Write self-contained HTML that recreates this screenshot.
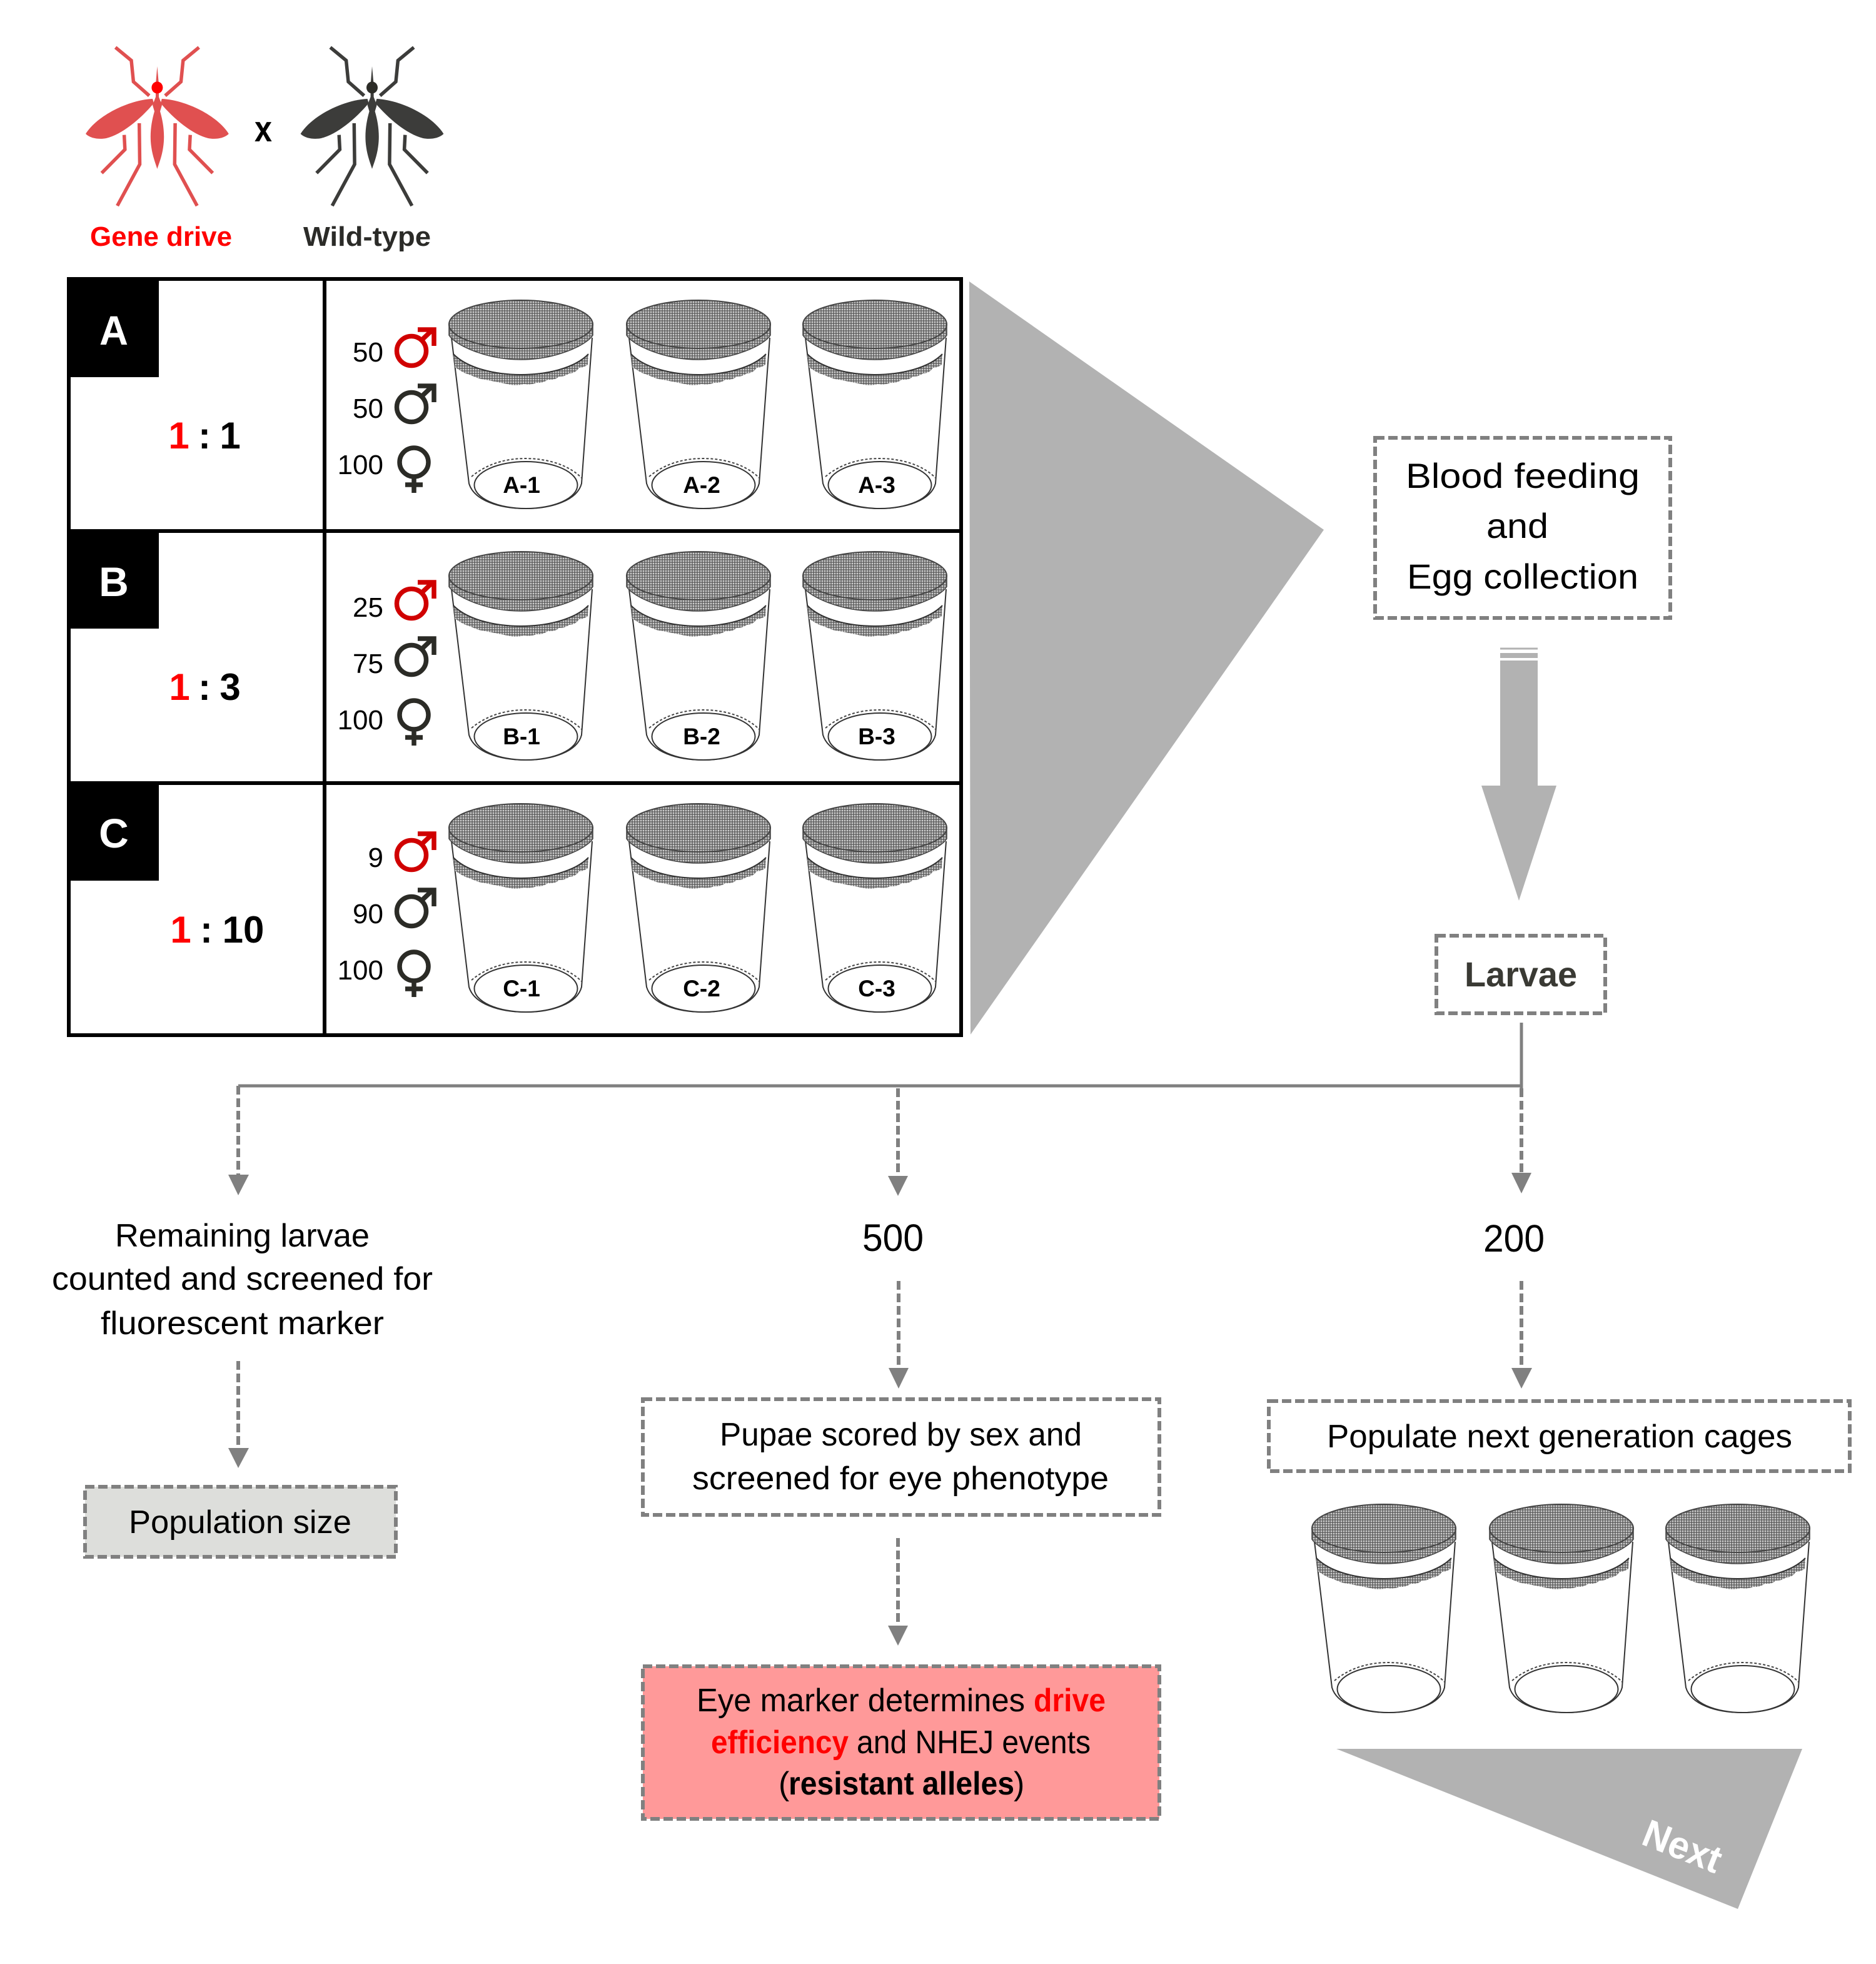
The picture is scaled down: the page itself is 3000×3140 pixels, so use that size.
<!DOCTYPE html>
<html><head><meta charset="utf-8"><style>
html,body{margin:0;padding:0;background:#fff}
svg{display:block}
text{font-family:"Liberation Sans",sans-serif}
.b{font-weight:bold}
.c{font-size:44px;text-anchor:end}
.t{font-size:52px}
.d{stroke:#808080;stroke-width:6;stroke-dasharray:15 6}
.l{fill:none;stroke:#808080;stroke-width:6;stroke-dasharray:14 6}
.h{fill:#808080}
.jl{font-size:37px;font-weight:bold;text-anchor:middle}
.m{fill:none;stroke-width:7.5}
</style></head><body>
<svg xmlns="http://www.w3.org/2000/svg" width="3000" height="3140" viewBox="0 0 3000 3140">
<defs>
<pattern id="mesh" width="4" height="4" patternUnits="userSpaceOnUse">
<rect width="4" height="4" fill="#d0d0d0"/>
<path d="M0 1H4M1 0V4" stroke="#555" stroke-width="1.300"/>
</pattern>
<g id="jar">
<path d="M4,60 L32,293 C40,320 80,333 122,333 C165,333 205,320 212,293 L229,60" fill="#fff" stroke="#333" stroke-width="2"/>
<path d="M7,86 C50,130 180,130 223,86 L222,103 Q215,108 208,108 Q202,117 192,117 Q186,122 176,122 Q170,128 158,127 Q150,133 140,132 Q130,136 120,134 Q108,137 98,135 Q88,133 78,131 Q68,129 58,127 Q48,126 40,122 Q30,118 24,116 Q14,110 9,107 Z" fill="url(#mesh)"/>
<path d="M7,86 C50,130 180,130 223,86" fill="none" stroke="#333" stroke-width="2"/>
<path d="M0,38 L0,56 C10,72 60,95 115,95 C170,95 220,72 230,56 L230,38 Z" fill="url(#mesh)" stroke="#444" stroke-width="1.500"/>
<ellipse cx="115" cy="38.500" rx="115" ry="38.500" fill="url(#mesh)" stroke="#444" stroke-width="2"/>
<ellipse cx="123" cy="295.500" rx="82.500" ry="37.500" fill="#fff" stroke="#333" stroke-width="2"/>
<path d="M36,282 C60,262 90,253 122,253 C155,253 190,262 212,284" fill="none" stroke="#444" stroke-width="2" stroke-dasharray="4 3"/>
</g>
<g id="mh">
<path d="M244,158 C205,160 155,185 137,214 C145,222 160,223 170,221 C195,215 225,190 246,165 Z" stroke="none"/>
<g fill="none" stroke="currentColor" stroke-width="5.500">
<path d="M184.600,75.700 L210,96.700 L213.400,130.700 L238.700,153"/>
<path d="M222.700,197 L223.500,262.700 L187.600,329"/>
<path d="M198.600,215.700 L199.800,239 L162.600,276.700"/>
</g>
</g>
<g id="mq">
<use href="#mh" fill="currentColor"/>
<use href="#mh" fill="currentColor" transform="translate(502.800,0) scale(-1,1)"/>
<path fill="currentColor" d="M251.400,106 L254,135 L254,155 L259,168 L256,178 C261,195 264,215 261,235 C259,250 254,262 251.400,270 C249,262 244,250 242,235 C239,215 242,195 247,178 L244,168 L249,155 L249,135 Z"/>
</g>
<g id="male"><circle cx="0" cy="0" r="23.500"/><path d="M16,-17 L35,-35 M10,-34 H36 V-8"/></g>
<g id="fem"><circle cx="0" cy="0" r="23"/><path d="M0,24 V49 M-14,36 H14"/></g>
</defs>

<!-- mosquitoes -->
<g color="#e05050"><use href="#mq"/></g><ellipse cx="251.400" cy="140" rx="9" ry="9.500" fill="#f00"/>
<g color="#3c3c3a" transform="translate(343.600,0)"><use href="#mq"/><ellipse cx="251.400" cy="140" rx="9" ry="9.500" fill="#2c2c27"/></g>
<text x="144" y="393" font-size="44" class="b" fill="#f00" textLength="227" lengthAdjust="spacingAndGlyphs">Gene drive</text>
<text x="485" y="393" font-size="44" class="b" fill="#2b2b28" textLength="204" lengthAdjust="spacingAndGlyphs">Wild-type</text>
<text x="407" y="226" font-size="58" class="b" textLength="28" lengthAdjust="spacingAndGlyphs">x</text>

<!-- table -->
<rect x="110" y="446" width="1427" height="1209" fill="#fff" stroke="#000" stroke-width="6"/>
<path d="M519,446V1655M110,849H1537M110,1252H1537" stroke="#000" stroke-width="6" fill="none"/>
<rect x="107" y="443" width="147" height="160" fill="#000"/>
<rect x="107" y="846" width="147" height="159" fill="#000"/>
<rect x="107" y="1249" width="147" height="159" fill="#000"/>
<text x="182" y="551" font-size="66" class="b" fill="#fff" text-anchor="middle" textLength="46" lengthAdjust="spacingAndGlyphs">A</text>
<text x="182" y="953" font-size="66" class="b" fill="#fff" text-anchor="middle">B</text>
<text x="182" y="1355" font-size="66" class="b" fill="#fff" text-anchor="middle">C</text>

<g font-size="60" class="b" text-anchor="middle">
<text x="286" y="717" fill="#f00">1</text><text x="327" y="717">:</text><text x="368" y="717">1</text>
<text x="287" y="1119" fill="#f00">1</text><text x="327" y="1119">:</text><text x="368" y="1119">3</text>
<text x="289" y="1507" fill="#f00">1</text><text x="330" y="1507">:</text><text x="389" y="1507">10</text>
</g>

<!-- counts -->
<text x="613" y="578" class="c">50</text><text x="613" y="668" class="c">50</text><text x="613" y="758" class="c">100</text>
<text x="613" y="986" class="c">25</text><text x="613" y="1076" class="c">75</text><text x="613" y="1166" class="c">100</text>
<text x="613" y="1386" class="c">9</text><text x="613" y="1476" class="c">90</text><text x="613" y="1566" class="c">100</text>

<g class="m">
<use href="#male" x="658" y="561" stroke="#d00000"/><use href="#male" x="658" y="651" stroke="#2b2b26"/><use href="#fem" x="662" y="739" stroke="#2b2b26"/>
<use href="#male" x="658" y="965" stroke="#d00000"/><use href="#male" x="658" y="1055" stroke="#2b2b26"/><use href="#fem" x="662" y="1143" stroke="#2b2b26"/>
<use href="#male" x="658" y="1367" stroke="#d00000"/><use href="#male" x="658" y="1457" stroke="#2b2b26"/><use href="#fem" x="662" y="1545" stroke="#2b2b26"/>
</g>

<!-- jars -->
<use href="#jar" x="718" y="480"/><use href="#jar" x="1002" y="480"/><use href="#jar" x="1284" y="480"/>
<use href="#jar" x="718" y="882"/><use href="#jar" x="1002" y="882"/><use href="#jar" x="1284" y="882"/>
<use href="#jar" x="718" y="1285"/><use href="#jar" x="1002" y="1285"/><use href="#jar" x="1284" y="1285"/>
<use href="#jar" x="2098" y="2405"/><use href="#jar" x="2382" y="2405"/><use href="#jar" x="2664" y="2405"/>
<text x="834" y="788" class="jl">A-1</text><text x="1122" y="788" class="jl">A-2</text><text x="1402" y="788" class="jl">A-3</text>
<text x="834" y="1190" class="jl">B-1</text><text x="1122" y="1190" class="jl">B-2</text><text x="1402" y="1190" class="jl">B-3</text>
<text x="834" y="1593" class="jl">C-1</text><text x="1122" y="1593" class="jl">C-2</text><text x="1402" y="1593" class="jl">C-3</text>

<!-- big shapes -->
<polygon points="1550,450 2117,847 1552,1654" fill="#b2b2b2"/>
<polygon points="2399,1056 2459,1056 2459,1256 2489,1256 2429,1440 2369,1256 2399,1256" fill="#b2b2b2"/>
<path d="M2399,1037H2459" stroke="#b2b2b2" stroke-width="3" fill="none"/>
<path d="M2399,1048H2459" stroke="#b2b2b2" stroke-width="8"/>
<polygon points="2137,2796 2882,2796 2779,3052" fill="#b2b2b2"/>
<text x="2690" y="2973" font-size="62" class="b" fill="#fff" text-anchor="middle" transform="rotate(21.700 2690 2953)" textLength="130" lengthAdjust="spacingAndGlyphs">Next</text>

<!-- boxes -->
<rect x="2199" y="700" width="472" height="288" fill="#fff" class="d"/>
<rect x="2297" y="1496" width="270" height="124" fill="#fff" class="d"/>
<rect x="136" y="2377" width="497" height="112" fill="#dddedb" class="d"/>
<rect x="1028" y="2237" width="826" height="185" fill="#fff" class="d"/>
<rect x="1028" y="2664" width="826" height="244" fill="#ff9999" class="d"/>
<rect x="2029" y="2240" width="929" height="112" fill="#fff" class="d"/>

<!-- connectors -->
<path d="M381,1736H2433M2433,1635V1742" fill="none" stroke="#808080" stroke-width="5"/>
<path d="M381,1736V1880" class="l"/><polygon class="h" points="365,1878 398,1878 381,1911"/>
<path d="M381,2176V2316" class="l"/><polygon class="h" points="365,2315 398,2315 381,2347"/>
<path d="M1436,1740V1882" class="l"/><polygon class="h" points="1420,1880 1452,1880 1436,1912"/>
<path d="M1437,2048V2188" class="l"/><polygon class="h" points="1421,2187 1453,2187 1437,2220"/>
<path d="M1436,2459V2600" class="l"/><polygon class="h" points="1420,2599 1452,2599 1436,2631"/>
<path d="M2433,1740V1876" class="l"/><polygon class="h" points="2417,1875 2449,1875 2433,1908"/>
<path d="M2433,2048V2188" class="l"/><polygon class="h" points="2417,2187 2450,2187 2433,2220"/>

<!-- text -->
<g class="t">
<text x="2248" y="780" font-size="56" textLength="374" lengthAdjust="spacingAndGlyphs">Blood feeding</text>
<text x="2377" y="860" font-size="56" textLength="99" lengthAdjust="spacingAndGlyphs">and</text>
<text x="2250" y="941" font-size="56" textLength="370" lengthAdjust="spacingAndGlyphs">Egg collection</text>
<text x="2342" y="1577" font-size="56" class="b" fill="#3a3a34" textLength="180" lengthAdjust="spacingAndGlyphs">Larvae</text>
<text x="184" y="1993" textLength="407" lengthAdjust="spacingAndGlyphs">Remaining larvae</text>
<text x="83" y="2062" textLength="609" lengthAdjust="spacingAndGlyphs">counted and screened for</text>
<text x="161" y="2133" textLength="453" lengthAdjust="spacingAndGlyphs">fluorescent marker</text>
<text x="206" y="2451" textLength="356" lengthAdjust="spacingAndGlyphs">Population size</text>
<text x="1379" y="2000" font-size="61" textLength="98" lengthAdjust="spacingAndGlyphs">500</text>
<text x="2372" y="2001" font-size="61" textLength="98" lengthAdjust="spacingAndGlyphs">200</text>
<text x="1151" y="2311" textLength="579" lengthAdjust="spacingAndGlyphs">Pupae scored by sex and</text>
<text x="1107" y="2381" textLength="666" lengthAdjust="spacingAndGlyphs">screened for eye phenotype</text>
<text x="1114" y="2736" textLength="525" lengthAdjust="spacingAndGlyphs">Eye marker determines</text>
<text x="1653" y="2736" class="b" fill="#f00" textLength="115" lengthAdjust="spacingAndGlyphs">drive</text>
<text x="1137" y="2803" class="b" fill="#f00" textLength="220" lengthAdjust="spacingAndGlyphs">efficiency</text>
<text x="1370" y="2803" textLength="374" lengthAdjust="spacingAndGlyphs">and NHEJ events</text>
<text x="1245" y="2869">(</text>
<text x="1261" y="2869" class="b" textLength="361" lengthAdjust="spacingAndGlyphs">resistant alleles</text>
<text x="1621" y="2869">)</text>
<text x="2122" y="2314" textLength="744" lengthAdjust="spacingAndGlyphs">Populate next generation cages</text>
</g>
</svg>
</body></html>
